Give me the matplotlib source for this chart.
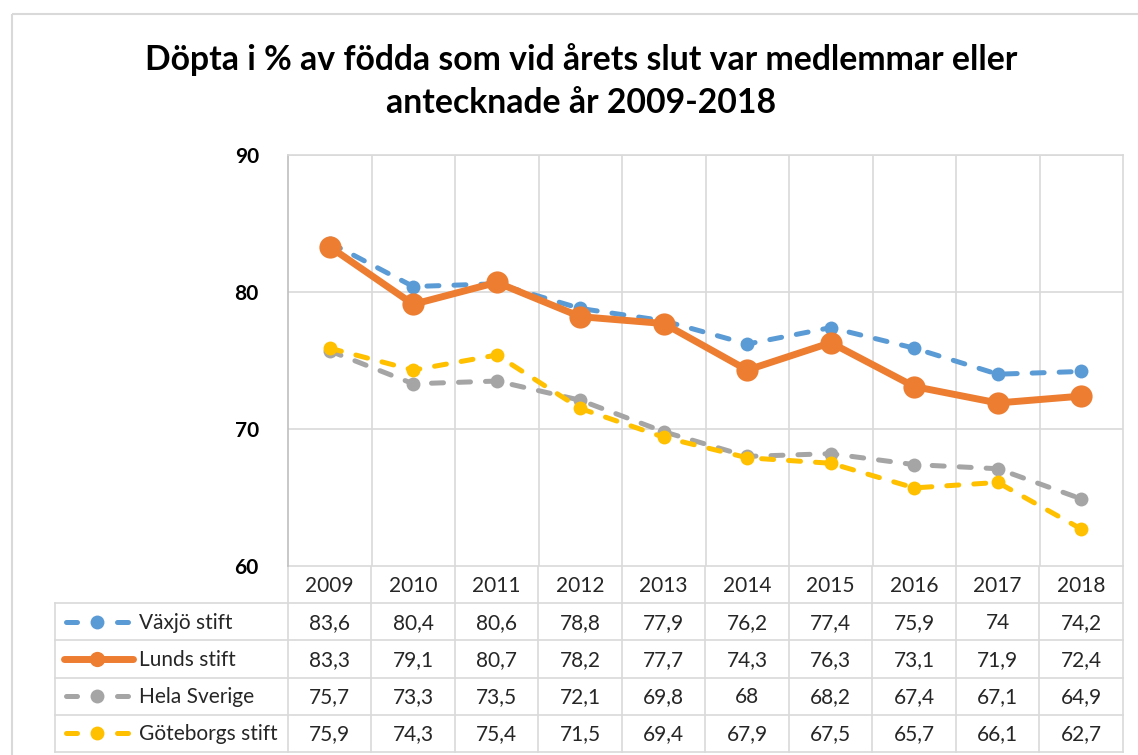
import matplotlib
matplotlib.use("Agg")
import matplotlib.pyplot as plt
from matplotlib.lines import Line2D
from matplotlib.patches import Rectangle

plt.rcParams["font.family"] = ["Lato", "DejaVu Sans"]

# ---- data ------------------------------------------------------------------
YEARS = ["2009", "2010", "2011", "2012", "2013", "2014", "2015", "2016", "2017", "2018"]
VAXJO = [83.6, 80.4, 80.6, 78.8, 77.9, 76.2, 77.4, 75.9, 74.0, 74.2]
LUND = [83.3, 79.1, 80.7, 78.2, 77.7, 74.3, 76.3, 73.1, 71.9, 72.4]
SVERIGE = [75.7, 73.3, 73.5, 72.1, 69.8, 68.0, 68.2, 67.4, 67.1, 64.9]
GBG = [75.9, 74.3, 75.4, 71.5, 69.4, 67.9, 67.5, 65.7, 66.1, 62.7]
NAMES = ["Växjö stift", "Lunds stift", "Hela Sverige", "Göteborgs stift"]
TITLE = "Döpta i % av födda som vid årets slut var medlemmar eller\nantecknade år 2009-2018"

BLUE = "#5B9BD5"
ORANGE = "#ED7D31"
GRAY = "#A5A5A5"
YELLOW = "#FFC000"
GRID = "#D9D9D9"
TXT = "#262626"

DASH = (0, (2.4, 3.0))
STYLES = [
    dict(color=BLUE, lw=3.6, ls=DASH, ms=10),
    dict(color=ORANGE, lw=5.0, ls="-", ms=16),
    dict(color=GRAY, lw=3.6, ls=DASH, ms=10),
    dict(color=YELLOW, lw=3.6, ls=DASH, ms=10),
]

W, H = 1138, 755
fig = plt.figure(figsize=(W / 100, H / 100), dpi=100)

# pixel layout
PL, PR, PT, PB = 288, 1123, 155, 566
TL = 55
ROW_H = 37.2


def fx(px):
    return px / W


def fy(py):
    return 1 - py / H


# overlay in pixel coordinates for frame, title and table
ov = fig.add_axes([0, 0, 1, 1])
ov.set_xlim(0, W)
ov.set_ylim(H, 0)
ov.axis("off")
ov.add_patch(Rectangle((12, 14), W, H, fill=False, edgecolor=GRID, lw=1.5))
ov.text(581, 81, TITLE, ha="center", va="center", fontsize=24.3, fontweight="bold",
        color="black", linespacing=1.45)

ax = fig.add_axes([fx(PL), fy(PB), fx(PR - PL), fy(PT) - fy(PB)])
x = list(range(len(YEARS)))
for vals, st in zip([VAXJO, LUND, SVERIGE, GBG], STYLES):
    ax.plot(x, vals, color=st["color"], lw=st["lw"], ls=st["ls"], marker="o",
            ms=st["ms"], markeredgewidth=0, solid_capstyle="round",
            dash_capstyle="round", zorder=3)
ax.set_xlim(-0.5, len(YEARS) - 0.5)
ax.set_ylim(60, 90)
ax.set_yticks([60, 70, 80, 90])
ax.set_xticks([i + 0.5 for i in range(len(YEARS) - 1)])
ax.tick_params(axis="x", length=0, labelbottom=False)
ax.tick_params(axis="y", length=0, labelsize=15, pad=21)
for t in ax.get_yticklabels():
    t.set_fontweight("bold")
ax.grid(True, color=GRID, lw=1.2)
for s in ax.spines.values():
    s.set_color(GRID)
    s.set_linewidth(1.2)
ax.spines["left"].set_color("#BFBFBF")
ax.spines["bottom"].set_visible(False)

# ---- data table --------------------------------------------------------------
colw = (PR - PL) / len(YEARS)
tb = PB + ROW_H * 5
lkw = dict(color=GRID, lw=1.2)
ov.plot([PL, PL], [PB, tb], **lkw)
ov.plot([PR, PR], [PB, tb], **lkw)
ov.plot([TL, TL], [PB + ROW_H, tb], **lkw)
for i in range(1, len(YEARS)):
    ov.plot([PL + i * colw] * 2, [PB, tb], **lkw)
ov.plot([PL, PR], [PB, PB], **lkw)
for r in range(1, 6):
    ov.plot([TL, PR], [PB + r * ROW_H] * 2, **lkw)

FS = 15
for i, yr in enumerate(YEARS):
    ov.text(PL + (i + 0.5) * colw, PB + 0.5 * ROW_H + 1, yr, ha="center", va="center",
            fontsize=FS, color=TXT)

for r, (name, vals, st) in enumerate(zip(NAMES, [VAXJO, LUND, SVERIGE, GBG], STYLES)):
    yc = PB + (r + 1.5) * ROW_H
    if st["ls"] == "-":
        ov.add_line(Line2D([64, 133], [yc, yc], color=st["color"], lw=st["lw"],
                           solid_capstyle="round"))
        ov.plot([97], [yc], marker="o", ms=11, color=st["color"], markeredgewidth=0)
    else:
        ov.add_line(Line2D([66, 77], [yc, yc], color=st["color"], lw=st["lw"],
                           solid_capstyle="round"))
        ov.add_line(Line2D([117, 128], [yc, yc], color=st["color"], lw=st["lw"],
                           solid_capstyle="round"))
        ov.plot([97], [yc], marker="o", ms=10, color=st["color"], markeredgewidth=0)
    ov.text(139, yc + 1, name, ha="left", va="center", fontsize=FS, color=TXT)
    for i, v in enumerate(vals):
        s = f"{v:g}".replace(".", ",")
        ov.text(PL + (i + 0.5) * colw, yc + 1, s, ha="center", va="center",
                fontsize=FS, color=TXT)

fig.savefig("out.png", dpi=100)
